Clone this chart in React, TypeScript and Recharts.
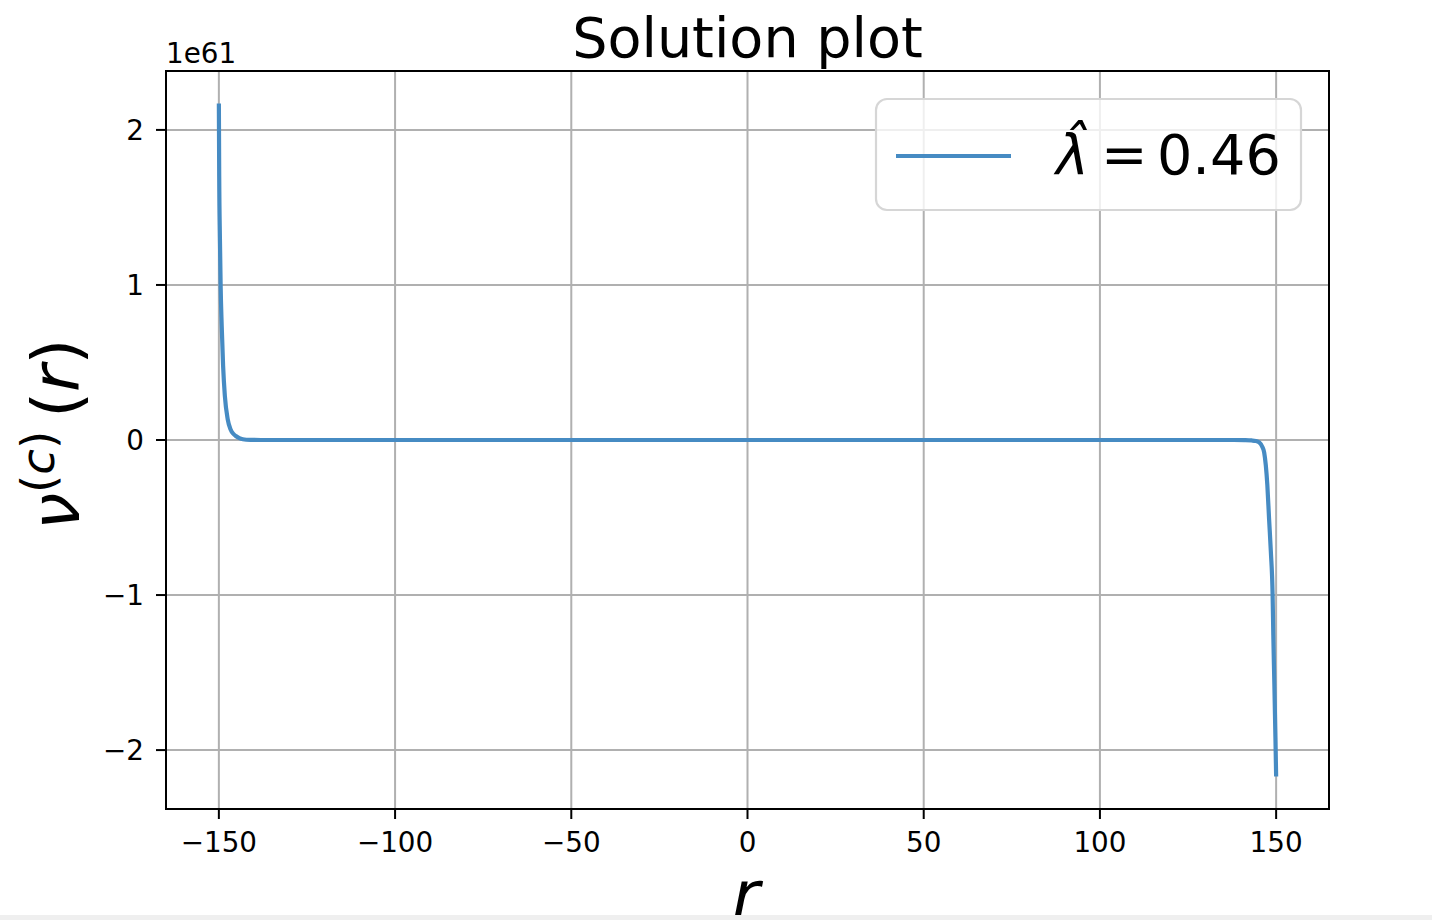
import React from "react";
import {
  LineChart,
  Line,
  XAxis,
  YAxis,
  CartesianGrid,
  ReferenceArea,
  Legend,
} from "recharts";

// r positions (x) and solution values v^(c)(r) in units of 1e61
const rValues = [
  -150, -149.9, -149.7, -149.5, -149.2, -148.8, -148.3, -147.5, -146.7, -145.9,
  -145.2, -144.2, -143.2, -141, -138, -130, -100, -50, 0, 50, 100, 130, 138,
  141, 143, 144.2, 145.2, 146.1, 146.6, 147.5, 148, 148.5, 149, 149.2, 149.5,
  149.8, 150,
];
const vValues = [
  2.17, 1.7, 1.3, 1.0, 0.74, 0.48, 0.285, 0.135, 0.07, 0.04, 0.026, 0.012,
  0.005, 0.001, 0, 0, 0, 0, 0, 0, 0, 0, 0, -0.001, -0.003, -0.006, -0.015,
  -0.045, -0.08, -0.29, -0.51, -0.72, -1.0, -1.26, -1.58, -1.92, -2.17,
];
const xTicks = [-150, -100, -50, 0, 50, 100, 150];
const yTicks = [-2, -1, 0, 1, 2];
const seriesLabel = "0.46";
const offsetLabel = "1e61";

const data = rValues.map((r, i) => ({ r, v: vValues[i] }));

const FONT = "'DejaVu Sans', sans-serif";
const LINE_COLOR = "#468bc3";
const fmt = (v: number) => String(v).replace("-", "\u2212");

const LegendBox = () => (
  <svg width={428} height={114} style={{ display: "block", overflow: "visible" }}>
    <rect
      x={1}
      y={1}
      width={425}
      height={111}
      rx={11}
      ry={11}
      fill="rgba(255,255,255,0.8)"
      stroke="#d6d6d6"
      strokeWidth={2.2}
    />
    <line x1={21} x2={136} y1={58} y2={58} stroke={LINE_COLOR} strokeWidth={4.2} />
    <text fontFamily={FONT} fontSize={55.6} fill="#000">
      <tspan x={181} y={76} fontStyle="italic">
        {"\u03BB\u0302"}
      </tspan>
      <tspan x={226} y={76}>
        =
      </tspan>
      <tspan x={282} y={76}>
        {seriesLabel}
      </tspan>
    </text>
  </svg>
);

export default function App() {
  return (
    <div
      style={{
        position: "absolute",
        left: 0,
        top: 0,
        width: 1432,
        height: 920,
        background: "#fff",
        overflow: "hidden",
      }}
    >
      <LineChart
        width={1432}
        height={920}
        data={data}
        margin={{ top: 71, right: 103, bottom: 51, left: 86 }}
      >
        <CartesianGrid stroke="#b0b0b0" strokeWidth={2} />
        <XAxis
          dataKey="r"
          type="number"
          domain={[-165, 165]}
          ticks={xTicks}
          allowDataOverflow
          height={60}
          tickFormatter={fmt}
          tick={{ fontFamily: FONT, fontSize: 27.8, fill: "#000" }}
          tickSize={10}
          tickMargin={13}
          tickLine={{ stroke: "#000", strokeWidth: 2 }}
          axisLine={{ stroke: "#000", strokeWidth: 2 }}
        />
        <YAxis
          type="number"
          domain={[-2.38, 2.38]}
          ticks={yTicks}
          allowDataOverflow
          width={80}
          tickFormatter={fmt}
          tick={{ fontFamily: FONT, fontSize: 27.8, fill: "#000" }}
          tickSize={10}
          tickMargin={12}
          tickLine={{ stroke: "#000", strokeWidth: 2 }}
          axisLine={{ stroke: "#000", strokeWidth: 2 }}
        />
        <ReferenceArea
          x1={-165}
          x2={165}
          y1={-2.38}
          y2={2.38}
          fill="none"
          fillOpacity={0}
          stroke="#000"
          strokeWidth={2}
          ifOverflow="visible"
        />
        <Line
          type="monotone"
          dataKey="v"
          stroke={LINE_COLOR}
          strokeWidth={4.2}
          dot={false}
          isAnimationActive={false}
        />
        <Legend
          layout="horizontal"
          verticalAlign="middle"
          align="center"
          wrapperStyle={{ left: 875, top: 98, width: 428, height: 114 }}
          content={() => <LegendBox />}
        />
      </LineChart>
      <svg
        width={1432}
        height={920}
        style={{ position: "absolute", left: 0, top: 0, pointerEvents: "none" }}
      >
        <text
          x={747.5}
          y={57}
          textAnchor="middle"
          fontFamily={FONT}
          fontSize={55.6}
          fill="#000"
        >
          Solution plot
        </text>
        <text x={166} y={63} fontFamily={FONT} fontSize={27.8} fill="#000">
          {offsetLabel}
        </text>
        <text
          x={746}
          y={918}
          textAnchor="middle"
          fontFamily={FONT}
          fontSize={66.7}
          fontStyle="italic"
          fill="#000"
        >
          r
        </text>
        <g transform="translate(79,527) rotate(-90)">
          <text fontFamily={FONT} fontSize={66.7} fill="#000">
            <tspan x={-3} y={0} fontStyle="italic">
              ν
            </tspan>
            <tspan x={34} y={-25} fontSize={46.7}>
              (
            </tspan>
            <tspan fontSize={46.7} fontStyle="italic">
              c
            </tspan>
            <tspan fontSize={46.7}>)</tspan>
            <tspan x={109} y={0}>
              (
            </tspan>
            <tspan fontStyle="italic">r</tspan>
            <tspan>)</tspan>
          </text>
        </g>
      </svg>
      <div
        style={{
          position: "absolute",
          left: 0,
          top: 915,
          width: 1432,
          height: 5,
          background: "#efefef",
        }}
      />
    </div>
  );
}
